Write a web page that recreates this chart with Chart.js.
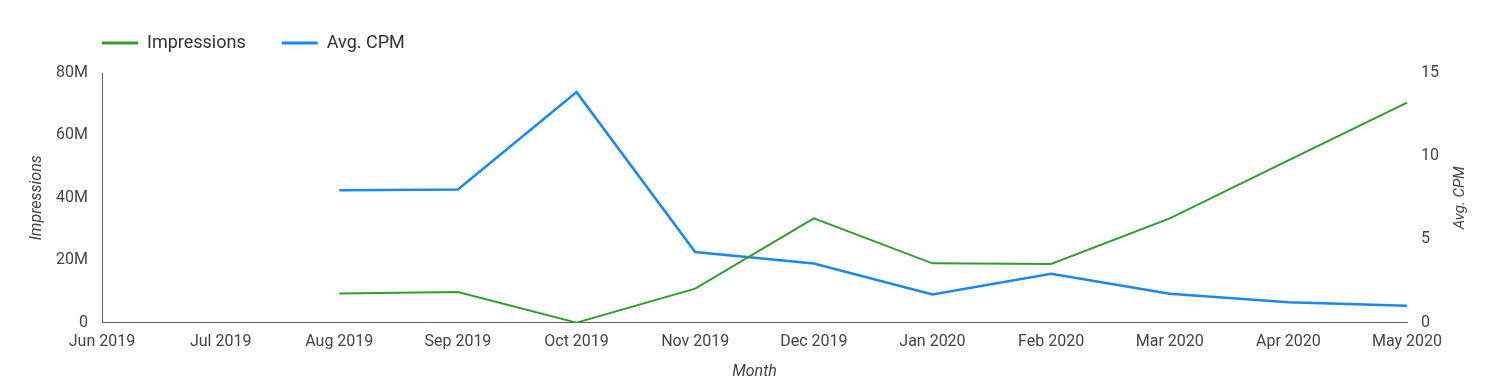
<!DOCTYPE html>
<html>
<head>
<meta charset="utf-8">
<script src="https://cdn.jsdelivr.net/npm/chart.js@4"></script>
<style>
  html, body { margin: 0; padding: 0; background: #fff; }
  #wrap { width: 1500px; height: 389px; position: relative; }
</style>
</head>
<body>
<div id="wrap"><canvas id="c"></canvas></div>
<script>
const months = ['Jun 2019','Jul 2019','Aug 2019','Sep 2019','Oct 2019','Nov 2019','Dec 2019','Jan 2020','Feb 2020','Mar 2020','Apr 2020','May 2020'];
const impressions = [null, null, 9.3e6, 9.8e6, 0, 10.9e6, 33.4e6, 19.0e6, 18.8e6, 33.4e6, 52.0e6, 70.5e6];
const avgCpm = [null, null, 7.95, 8.0, 13.85, 4.24, 3.55, 1.69, 2.93, 1.73, 1.22, 1.02];
const leftTicks = [0, 20e6, 40e6, 60e6, 80e6];
const rightTicks = [0, 5, 10, 15];

const GREEN = '#2f9e2f';
const BLUE = '#1b87f0';
const TEXT = '#444444';
const AXIS = '#5f5f5f';
const FONT = 'Roboto';

const legendShift = {
  id: 'legendShift',
  beforeInit(chart) {
    const lg = chart.legend;
    const origFit = lg.fit;
    lg.fit = function () { origFit.call(this); this.height = 73; };
  },
  afterLayout(chart) {
    const lg = chart.legend;
    const pad = lg.options.labels.padding;
    const delta = chart.chartArea.left - pad - lg.left;
    lg.left += delta;
    lg.right += delta;
    lg.top -= 2;
    if (lg.legendHitBoxes) lg.legendHitBoxes.forEach(b => { b.left += delta; });
  }
};

const rightTitle = {
  id: 'rightTitle',
  afterDraw(chart) {
    const ctx = chart.ctx;
    const ca = chart.chartArea;
    ctx.save();
    ctx.translate(1460, (ca.top + ca.bottom) / 2);
    ctx.rotate(-Math.PI / 2);
    ctx.fillStyle = TEXT;
    ctx.font = 'italic 15px ' + FONT;
    ctx.textAlign = 'center';
    ctx.textBaseline = 'middle';
    ctx.fillText('Avg. CPM', 0, 0);
    ctx.restore();
  }
};

new Chart(document.getElementById('c'), {
  type: 'line',
  data: {
    labels: months,
    datasets: [
      { label: 'Impressions', data: impressions, yAxisID: 'y', borderColor: GREEN, backgroundColor: GREEN, borderWidth: 2, pointRadius: 0, tension: 0 },
      { label: 'Avg. CPM', data: avgCpm, yAxisID: 'y1', borderColor: BLUE, backgroundColor: BLUE, borderWidth: 2.5, pointRadius: 0, tension: 0 }
    ]
  },
  options: {
    responsive: true,
    maintainAspectRatio: false,
    animation: false,
    layout: { padding: { left: 27, right: 0, top: 0, bottom: 7 } },
    plugins: {
      legend: {
        position: 'top',
        align: 'start',
        labels: {
          boxWidth: 36,
          boxHeight: 3,
          padding: 36,
          color: '#333333',
          font: { family: FONT, size: 18 },
          generateLabels(chart) {
            const items = Chart.defaults.plugins.legend.labels.generateLabels(chart);
            items.forEach(it => { it.lineWidth = 0; });
            return items;
          }
        }
      },
      tooltip: { enabled: false }
    },
    scales: {
      x: {
        type: 'category',
        offset: false,
        grid: { display: false, drawTicks: false },
        border: { display: true, color: AXIS, width: 1 },
        ticks: { color: TEXT, font: { family: FONT, size: 16 }, padding: 10, maxRotation: 0, autoSkip: false },
        title: { display: true, text: 'Month', color: TEXT, font: { family: FONT, size: 16, style: 'italic' }, padding: { top: 1, bottom: 0 } }
      },
      y: {
        position: 'left',
        min: 0, max: 80e6,
        afterBuildTicks(s) { s.ticks = leftTicks.map(v => ({ value: v })); },
        afterFit(s) { s.width = 75; },
        grid: { display: false, drawTicks: false },
        border: { display: true, color: AXIS, width: 1 },
        ticks: {
          color: TEXT, font: { family: FONT, size: 16 }, padding: 14,
          callback: v => v === 0 ? '0' : (v / 1e6) + 'M'
        },
        title: { display: true, text: 'Impressions', color: TEXT, font: { family: FONT, size: 16, style: 'italic' }, padding: { top: 0, bottom: 0 } }
      },
      y1: {
        position: 'right',
        min: 0, max: 15,
        afterBuildTicks(s) { s.ticks = rightTicks.map(v => ({ value: v })); },
        afterFit(s) { s.width = 93; },
        grid: { display: false, drawTicks: false },
        border: { display: false },
        ticks: { color: TEXT, font: { family: FONT, size: 16 }, padding: 14 },
        title: { display: false, text: 'Avg. CPM' }
      }
    }
  },
  plugins: [legendShift, rightTitle]
});
</script>
</body>
</html>
